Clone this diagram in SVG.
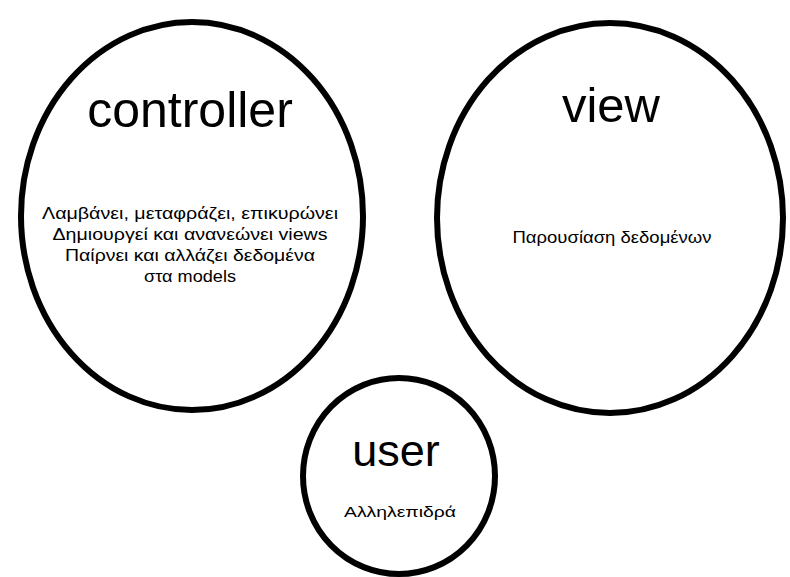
<svg xmlns="http://www.w3.org/2000/svg" width="790" height="577" viewBox="0 0 790 577">
<style>
.node{fill:#fff;stroke:#000;stroke-width:6}
.title{font-family:"Liberation Sans",Arial,sans-serif;fill:#000;text-anchor:middle}
.desc{font-family:"Liberation Sans",Arial,sans-serif;fill:#000;text-anchor:middle;font-size:16px}
</style>
<rect width="790" height="577" fill="#fff"/>
<g id="connectors"></g>
<g id="controller">
<ellipse class="node" cx="192" cy="216" rx="171" ry="194"/>
<text class="title" x="190" y="127" font-size="50">controller</text>
<text class="desc" x="190" y="219" textLength="296" lengthAdjust="spacingAndGlyphs">Λαμβάνει, μεταφράζει, επικυρώνει</text>
<text class="desc" x="190" y="240" textLength="275" lengthAdjust="spacingAndGlyphs">Δημιουργεί και ανανεώνει views</text>
<text class="desc" x="190" y="261" textLength="250" lengthAdjust="spacingAndGlyphs">Παίρνει και αλλάζει δεδομένα</text>
<text class="desc" x="190" y="282" textLength="92" lengthAdjust="spacingAndGlyphs">στα models</text>
</g>
<g id="view">
<ellipse class="node" cx="610" cy="218" rx="173" ry="195"/>
<text class="title" x="611" y="122" font-size="49">view</text>
<text class="desc" x="612" y="243" style="font-size:17px" textLength="199" lengthAdjust="spacingAndGlyphs">Παρουσίαση δεδομένων</text>
</g>
<g id="user">
<ellipse class="node" cx="399" cy="476" rx="96" ry="98"/>
<text class="title" x="396" y="466" font-size="45">user</text>
<text class="desc" x="400" y="517" style="font-size:14px" textLength="112" lengthAdjust="spacingAndGlyphs">Αλληλεπιδρά</text>
</g>
</svg>
